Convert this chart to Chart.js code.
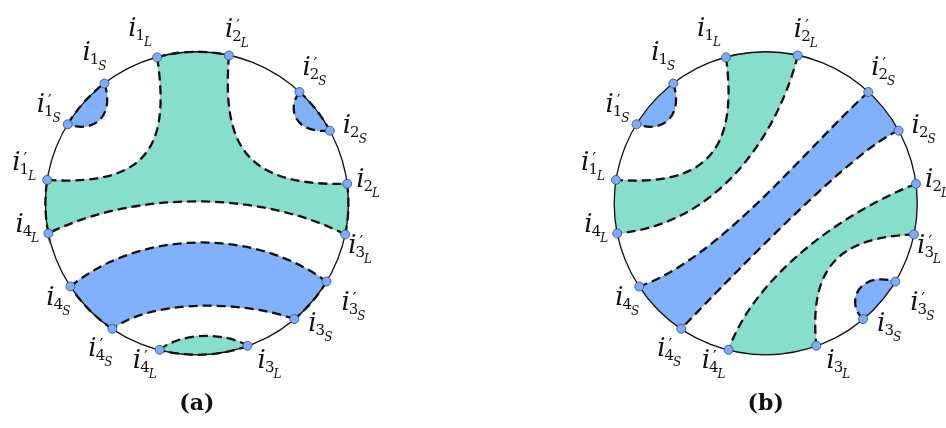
<!DOCTYPE html>
<html>
<head>
<meta charset="utf-8">
<script src="https://cdn.jsdelivr.net/npm/chart.js@4.4.1/dist/chart.umd.min.js"></script>
<style>
  body { margin: 0; background: #fff; }
  .row { display: flex; width: 946px; height: 428px; }
  .panel { width: 473px; height: 428px; }
</style>
</head>
<body>
<div class="row">
  <div class="panel"><canvas id="chart-a" width="473" height="428"></canvas></div>
  <div class="panel"><canvas id="chart-b" width="473" height="428"></canvas></div>
</div>
<script>
// circle radius in data units, both panels use the same marked points
const R = 155;
const pointNames  = ["i1L", "i'2L", "i1S", "i'1S", "i'1L", "i'2S", "i2S", "i2L",
                     "i4L", "i'3L", "i4S", "i'3S", "i'4S", "i3S", "i'4L", "i3L"];
const pointAngles = [105.2, 77.8, 127.6, 148.5, 171.1, 47.4, 28.7, 7.4,
                     191.5, -11.9, 213.4, -31.2, 236.1, -50, 255.8, -70.5];

// dashed curves: [from, to, c1x, c1y, c2x, c2y] (cubic control points, data units)
const curvesA = [
  ["i1S", "i'1S", -84, 91, -104, 71],
  ["i'2S", "i2S", 92, 98, 99, 71],
  ["i'2L", "i2L", 26, 63, 46, 17],
  ["i'3L", "i4L", 64, 13, -64, 13],
  ["i'1L", "i1L", -46, 17, -28, 63],
  ["i4S", "i'3S", -56, -26, 59, -26],
  ["i3S", "i'4S", 44, -99, -46, -99],
  ["i'4L", "i3L", -16, -132, 29, -132]
];
const curvesB = [
  ["i1S", "i'1S", -84, 91, -104, 71],
  ["i1L", "i'1L", -27, 48, -67, 18],
  ["i'2L", "i4L", 13, 73, -47, -22],
  ["i'2S", "i4S", 43, 58, -47, -57],
  ["i2S", "i'4S", 93, 58, -27, -67],
  ["i2L", "i'4L", 73, -12, -12, -77],
  ["i'3L", "i3L", 68, -35, 45, -72],
  ["i3S", "i'3S", 81, -102, 95, -69]
];

// shaded regions: corner points in order, edges alternate arc / curve
const regionsA = [
  { kind: "S", start: "arc",   path: ["i'1S", "i1S"] },
  { kind: "S", start: "arc",   path: ["i'2S", "i2S"] },
  { kind: "L", start: "arc",   path: ["i1L", "i'2L", "i2L", "i'3L", "i4L", "i'1L"] },
  { kind: "S", start: "curve", path: ["i4S", "i'3S", "i3S", "i'4S"] },
  { kind: "L", start: "curve", path: ["i'4L", "i3L"] }
];
const regionsB = [
  { kind: "S", start: "arc", path: ["i'1S", "i1S"] },
  { kind: "L", start: "arc", path: ["i1L", "i'2L", "i4L", "i'1L"] },
  { kind: "S", start: "arc", path: ["i'2S", "i2S", "i'4S", "i4S"] },
  { kind: "L", start: "arc", path: ["i2L", "i'3L", "i3L", "i'4L"] },
  { kind: "S", start: "arc", path: ["i'3S", "i3S"] }
];

// label placement (pixel offset of label centre from its point)
const labelOffsets = [[-17, -24], [8, -22], [-10, -27], [-19, -15], [-23, -13], [15, -20], [25, -1], [21, 0],
                      [-21, -4], [15, 16], [-12, 16], [27, 25], [-12, 24], [26, 9], [-15, 15], [22, 19]];

const fills = { L: "#87dfcb", S: "#80b1fa" };

const rad = d => d * Math.PI / 180;
const pointData = pointAngles.map(a => ({ x: R * Math.cos(rad(a)), y: R * Math.sin(rad(a)) }));

function drawLabel(ctx, name, ax, ay) {
  const prime = name.includes("'");
  const digit = name.replace(/[^0-9]/g, "");
  const kind = name.slice(-1);
  const fI = "italic 26px 'DejaVu Serif', serif";
  const fD = "15px 'DejaVu Serif', serif";
  const fK = "italic 12px 'DejaVu Serif', serif";
  ctx.font = fI; const wi = ctx.measureText("i").width;
  ctx.font = fD; const wd = ctx.measureText(digit).width;
  ctx.font = fK; const wk = ctx.measureText(kind).width;
  let x = ax - (wi + wd + wk - 2) / 2;
  const base = ay + 3;
  ctx.fillStyle = "#111";
  ctx.textAlign = "left";
  ctx.textBaseline = "alphabetic";
  ctx.font = fI; ctx.fillText("i", x, base);
  x += wi - 1;
  if (prime) {
    ctx.font = "16px 'DejaVu Sans', sans-serif";
    ctx.fillText("\u2032", x + 4, base - 6);
  }
  ctx.font = fD; ctx.fillText(digit, x, base + 4);
  x += wd - 1;
  ctx.font = fK; ctx.fillText(kind, x, base + 10);
}

function diagramPlugin(curves, regions, dashArcs, caption) {
  return {
    id: "diagram",
    beforeDatasetsDraw(chart) {
      const ctx = chart.ctx, xs = chart.scales.x, ys = chart.scales.y;
      const px = (x, y) => [xs.getPixelForValue(x), ys.getPixelForValue(y)];
      const [cx, cy] = px(0, 0);
      const rPx = xs.getPixelForValue(R) - cx;
      const angOf = n => pointAngles[pointNames.indexOf(n)];
      const posOf = n => { const p = pointData[pointNames.indexOf(n)]; return px(p.x, p.y); };

      const findCurve = (a, b) => {
        for (const c of curves) {
          if (c[0] === a && c[1] === b) return [c[2], c[3], c[4], c[5]];
          if (c[0] === b && c[1] === a) return [c[4], c[5], c[2], c[3]];
        }
        return null;
      };
      const arcSeg = (a, b) => {
        const a1 = angOf(a), a2 = angOf(b);
        let d = a2 - a1;
        while (d > 180) d -= 360;
        while (d <= -180) d += 360;
        ctx.arc(cx, cy, rPx, -rad(a1), -rad(a1 + d), d > 0);
      };
      const curveSeg = (a, b) => {
        const c = findCurve(a, b);
        const p1 = px(c[0], c[1]), p2 = px(c[2], c[3]), e = posOf(b);
        ctx.bezierCurveTo(p1[0], p1[1], p2[0], p2[1], e[0], e[1]);
      };

      ctx.save();
      // fills
      regions.forEach(reg => {
        const n = reg.path.length;
        ctx.beginPath();
        ctx.moveTo(...posOf(reg.path[0]));
        for (let k = 0; k < n; k++) {
          const a = reg.path[k], b = reg.path[(k + 1) % n];
          const isArc = (k % 2 === 0) === (reg.start === "arc");
          if (isArc) arcSeg(a, b); else curveSeg(a, b);
        }
        ctx.closePath();
        ctx.fillStyle = fills[reg.kind];
        ctx.fill();
        ctx.strokeStyle = "rgba(120,120,120,0.55)";
        ctx.lineWidth = 0.8;
        ctx.stroke();
      });

      // circle outline
      ctx.beginPath();
      ctx.arc(cx, cy, rPx, 0, Math.PI * 2);
      ctx.strokeStyle = "#111";
      ctx.lineWidth = 1.3;
      ctx.stroke();

      // dashed boundaries
      ctx.setLineDash([9, 5]);
      ctx.lineWidth = 2.3;
      ctx.strokeStyle = "#111";
      curves.forEach(c => {
        ctx.beginPath();
        ctx.moveTo(...posOf(c[0]));
        curveSeg(c[0], c[1]);
        ctx.stroke();
      });
      if (dashArcs) {
        regions.forEach(reg => {
          const n = reg.path.length;
          for (let k = 0; k < n; k++) {
            const isArc = (k % 2 === 0) === (reg.start === "arc");
            if (!isArc) continue;
            const a = reg.path[k], b = reg.path[(k + 1) % n];
            ctx.beginPath();
            ctx.moveTo(...posOf(a));
            arcSeg(a, b);
            ctx.stroke();
          }
        });
      }
      ctx.restore();
    },
    afterDraw(chart) {
      const ctx = chart.ctx, xs = chart.scales.x, ys = chart.scales.y;
      ctx.save();
      pointData.forEach((p, i) => {
        const x = xs.getPixelForValue(p.x) + labelOffsets[i][0];
        const y = ys.getPixelForValue(p.y) + labelOffsets[i][1];
        drawLabel(ctx, pointNames[i], x, y);
      });
      ctx.font = "bold 22px 'DejaVu Serif', serif";
      ctx.textAlign = "center";
      ctx.textBaseline = "middle";
      ctx.fillStyle = "#111";
      ctx.fillText(caption, xs.getPixelForValue(0), ys.getPixelForValue(-206));
      ctx.restore();
    }
  };
}

function makeChart(id, xMin, curves, regions, dashArcs, caption) {
  return new Chart(document.getElementById(id), {
    type: "scatter",
    data: {
      datasets: [{
        data: pointData,
        pointRadius: 4.5,
        pointBackgroundColor: "#7eabf3",
        pointBorderColor: "#2f4f7f",
        pointBorderWidth: 0.8,
        showLine: false
      }]
    },
    options: {
      responsive: false,
      animation: false,
      devicePixelRatio: 1,
      layout: { padding: 0 },
      plugins: { legend: { display: false }, tooltip: { enabled: false } },
      scales: {
        x: { type: "linear", min: xMin, max: xMin + 473, display: false },
        y: { type: "linear", min: -225, max: 203, display: false }
      }
    },
    plugins: [diagramPlugin(curves, regions, dashArcs, caption)]
  });
}

makeChart("chart-a", -196, curvesA, regionsA, true, "(a)");
makeChart("chart-b", -294, curvesB, regionsB, false, "(b)");
</script>
</body>
</html>
